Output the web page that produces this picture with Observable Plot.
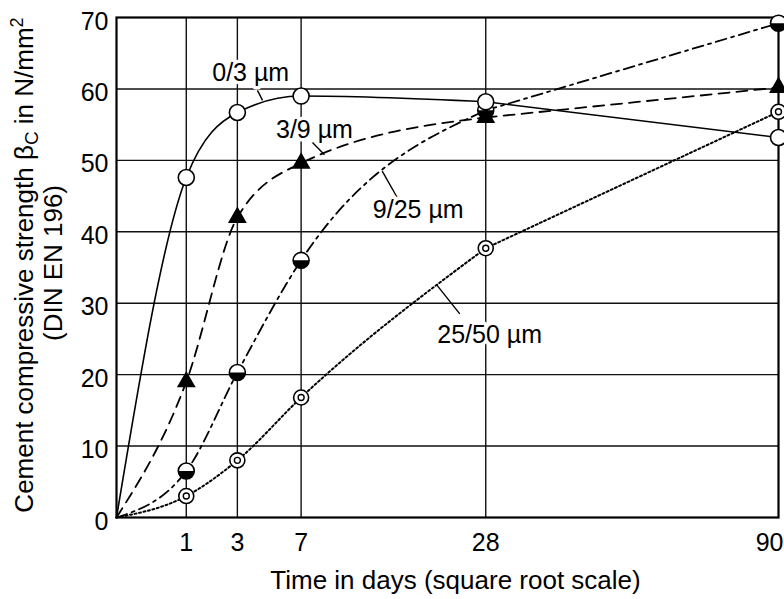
<!DOCTYPE html>
<html>
<head>
<meta charset="utf-8">
<script src="https://cdn.jsdelivr.net/npm/d3@7"></script>
<script src="https://cdn.jsdelivr.net/npm/@observablehq/plot@0.6"></script>
<style>
  body { margin: 0; background: #fff; }
</style>
</head>
<body>
<div id="chart"></div>
<script>
// test ages and strengths
const days = [0, 1, 3, 7, 28, 90]
const grain0_3 = [0, 47.6, 56.7, 59.0, 58.2, 53.2]
const grain3_9 = [0, 19.0, 42.0, 49.6, 56.0, 60.2]
const grain9_25 = [0, 6.5, 20.3, 36.0, 57.0, 69.2]
const grain25_50 = [0, 3.0, 8.0, 16.8, 37.7, 56.8]

const xTicks = [1, 3, 7, 28, 90]
const yTicks = [0, 10, 20, 30, 40, 50, 60, 70]

// curve labels and their leader lines, in days / N/mm2
const labels = ['0/3 µm', '3/9 µm', '9/25 µm', '25/50 µm']
const labelDays = [3.7, 8.05, 18.7, 28.6]
const labelStrength = [62.3, 54.3, 43.0, 25.6]
const leaderDays = [[4.08, 4.38], [7.89, 8.88], [14.5, 16.18], [21.03, 24.2]]
const leaderStrength = [[59.8, 58.4], [52.5, 50.8], [48.5, 44.8], [32.6, 28.5]]

const rows = (values) => days.map((d, i) => ({days: d, strength: values[i]}))
const marked = (values) => rows(values).filter(d => d.days > 0)

const annotations = labels.map((label, i) => ({label, days: labelDays[i], strength: labelStrength[i]}))
const leaders = labels.map((label, i) => ({
  x1: leaderDays[i][0], x2: leaderDays[i][1],
  y1: leaderStrength[i][0], y2: leaderStrength[i][1]
}))

// lower half of a disk, for the 9/25 markers
const halfDisk = {
  draw(ctx, size) {
    const r = Math.sqrt(size / Math.PI)
    ctx.moveTo(r, 0)
    ctx.arc(0, 0, r, 0, Math.PI)
    ctx.closePath()
  }
}

// smooth up to 28 days, then a straight run to 90 days
const curveMarks = (values, style) => [
  Plot.line(rows(values).slice(0, 5), {x: 'days', y: 'strength', stroke: 'black', curve: 'monotone-x', ...style}),
  Plot.line(rows(values).slice(4), {x: 'days', y: 'strength', stroke: 'black', ...style}),
]

let chart = Plot.plot({
  width: 784,
  height: 599,
  marginLeft: 116,
  marginRight: 6,
  marginTop: 17,
  marginBottom: 82,
  style: {fontFamily: 'Liberation Sans, Arial, Helvetica, sans-serif', background: 'white', color: 'black'},
  x: {type: 'sqrt', domain: [0, 90]},
  y: {domain: [0, 70]},
  marks: [
    Plot.gridX([1, 3, 7, 28], {stroke: '#111', strokeOpacity: 1, strokeWidth: 1.4}),
    Plot.gridY(yTicks.filter(t => t > 0 && t < 70), {stroke: '#111', strokeOpacity: 1, strokeWidth: 1.4}),
    Plot.frame({stroke: 'black', strokeWidth: 2.2}),

    Plot.axisX(xTicks.slice(0, 4), {tickSize: 0, tickPadding: 16, fontSize: 25, label: null}),
    Plot.axisX(xTicks.slice(4), {tickSize: 0, tickPadding: 16, fontSize: 25, label: null, textAnchor: 'end', dx: 5}),
    Plot.axisY(yTicks, {tickSize: 0, tickPadding: 8, fontSize: 25, label: null, dy: 4}),
    Plot.text(['Time in days (square root scale)'], {
      frameAnchor: 'bottom', lineAnchor: 'middle', dy: 63, dx: 8, fontSize: 26
    }),

    ...curveMarks(grain0_3, {strokeWidth: 1.6}),
    ...curveMarks(grain3_9, {strokeWidth: 1.8, strokeDasharray: '11,7'}),
    ...curveMarks(grain9_25, {strokeWidth: 1.8, strokeDasharray: '11,5,3,5'}),
    ...curveMarks(grain25_50, {strokeWidth: 2, strokeDasharray: '2,2.6'}),

    Plot.link(leaders, {x1: 'x1', y1: 'y1', x2: 'x2', y2: 'y2', stroke: 'black', strokeWidth: 1.4}),
    Plot.text(annotations, {
      x: 'days', y: 'strength', text: 'label', fontSize: 25,
      fill: 'black', stroke: 'white', strokeWidth: 7
    }),

    // 25/50: double circle
    Plot.dot(marked(grain25_50), {x: 'days', y: 'strength', r: 7.5, fill: 'white', stroke: 'black', strokeWidth: 1.6}),
    Plot.dot(marked(grain25_50), {x: 'days', y: 'strength', r: 3, fill: 'white', stroke: 'black', strokeWidth: 1.4}),
    // 9/25: half-filled circle
    Plot.dot(marked(grain9_25), {x: 'days', y: 'strength', r: 8, fill: 'white', stroke: 'black', strokeWidth: 1.6}),
    Plot.dot(marked(grain9_25), {x: 'days', y: 'strength', r: 8, symbol: halfDisk, fill: 'black'}),
    // 3/9: filled triangle
    Plot.dot(marked(grain3_9), {x: 'days', y: 'strength', r: 7, symbol: 'triangle', fill: 'black'}),
    // 0/3: open circle
    Plot.dot(marked(grain0_3), {x: 'days', y: 'strength', r: 8, fill: 'white', stroke: 'black', strokeWidth: 1.6}),
  ],
})

// rotated two-line y title with subscript and superscript
const svg = d3.select(chart)
const title = svg.append('text')
  .attr('transform', 'translate(33,265) rotate(-90)')
  .attr('text-anchor', 'middle')
  .attr('font-size', 26)
  .attr('fill', 'black')
title.append('tspan').text('Cement compressive strength β')
title.append('tspan').attr('font-size', 19).attr('dy', 5).text('C')
title.append('tspan').attr('dy', -5).text(' in N/mm')
title.append('tspan').attr('font-size', 18).attr('dy', -10).text('2')
svg.append('text')
  .attr('transform', 'translate(62,263) rotate(-90)')
  .attr('text-anchor', 'middle')
  .attr('font-size', 26)
  .attr('fill', 'black')
  .text('(DIN EN 196)')

d3.select('#chart').append(() => chart)
</script>
</body>
</html>
